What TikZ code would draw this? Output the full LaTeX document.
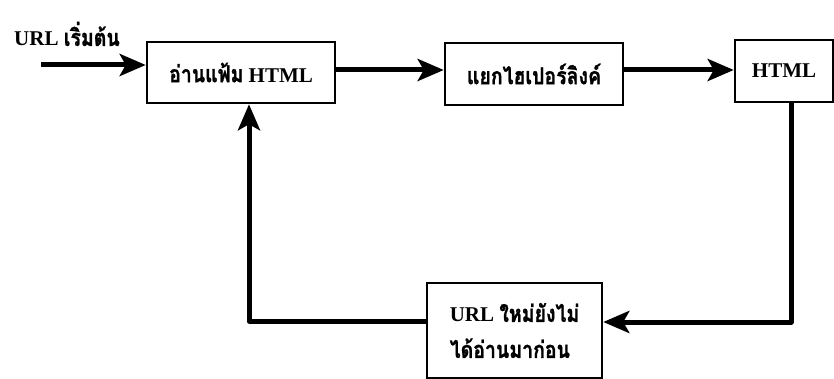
\documentclass[tikz,border=0pt]{standalone}
\usepackage{fontspec}
\usepackage{graphicx}
\setmainfont{Liberation Serif}
\newfontfamily\thaiface[Script=Thai,FakeBold=1.2]{Loma}
\newcommand\thtext[1]{\scalebox{1}[1.2]{\fontsize{19.5}{35}\selectfont\thaiface #1}}
\usetikzlibrary{arrows.meta}
\begin{document}
\begin{tikzpicture}[x=1pt,y=-1pt,
  box/.style={draw,line width=2.5pt,rectangle,inner sep=0pt,
    font=\fontsize{21}{36}\selectfont\bfseries},
  conn/.style={line width=5pt,line join=round,
    -{Stealth[length=26pt,width=22pt,inset=6pt]}}]
\useasboundingbox (0,0) rectangle (834,379);
% boxes
\node[box,minimum width=188pt,minimum height=61pt] (b1) at (241,72.5)
  {\thtext{อ่านแฟ้ม} HTML};
\node[box,minimum width=178pt,minimum height=62pt] (b2) at (534,74)
  {\thtext{แยกไฮเปอร์ลิงค์}};
\node[box,minimum width=98pt,minimum height=62pt] (b3) at (784,71)
  {HTML};
\node[box,minimum width=175pt,minimum height=95pt,align=left] (b4) at (514.5,330.5)
  {URL \thtext{ใหม่ยังไม่}\\\thtext{ได้อ่านมาก่อน}};
% label
\node[font=\fontsize{21}{25}\selectfont\bfseries,inner sep=0pt] (start) at (67,34)
  {URL \thtext{เริ่มต้น}};
% coordinates
\coordinate (in) at (41,65);
\coordinate (r1) at (0,70);
\coordinate (down) at (791,0);
\coordinate (backy) at (0,322);
\coordinate (leftx) at (249,0);
\coordinate (corner) at (249,321);
% connectors
\draw[conn] (in) -- (in -| b1.west);
\draw[conn] (b1.east |- r1) -- (b2.west |- r1);
\draw[conn] (b2.east |- r1) -- (b3.west |- r1);
\draw[conn] (b3.south -| down) |- (b4.east |- backy);
\draw[conn] (b4.west |- corner) -| (b1.south -| leftx);
\end{tikzpicture}
\end{document}
